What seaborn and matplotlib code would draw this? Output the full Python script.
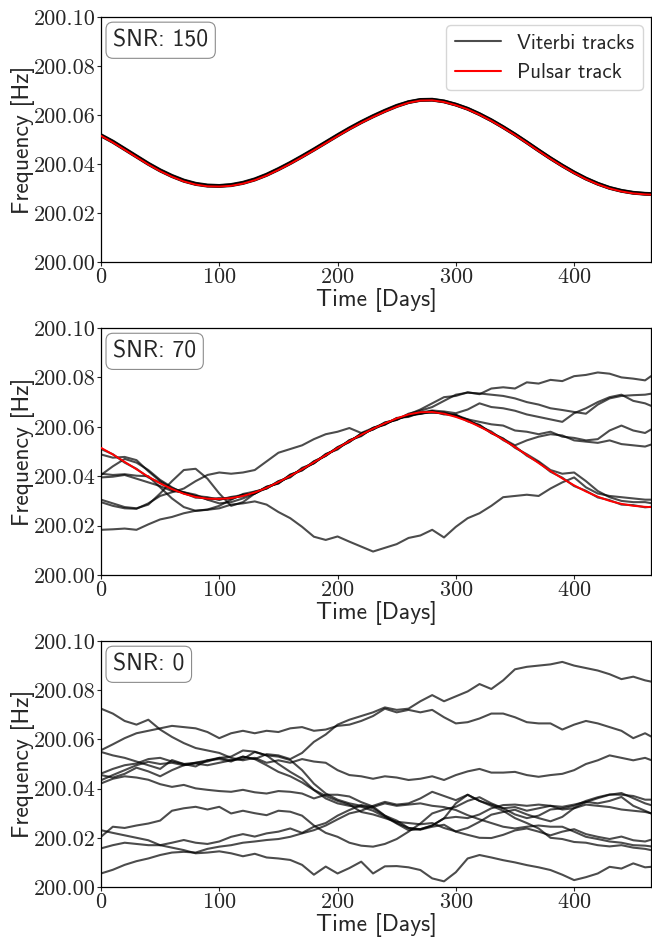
import numpy as np
import pandas as pd
import matplotlib
matplotlib.use("Agg")
import matplotlib.pyplot as plt
from matplotlib.lines import Line2D
from matplotlib.ticker import FormatStrFormatter, MultipleLocator
import seaborn as sns

# ---------------- data (frequency offsets in mHz above 200 Hz) ----------------
F0 = 200.0
days = list(range(0, 461, 10)) + [465]

pulsar = [51.5, 48.8, 45.8, 42.8, 39.8, 37.1, 34.8, 32.9, 31.6, 30.9,
          30.8, 31.1, 32.0, 33.4, 35.3, 37.6, 40.1, 42.8, 45.6, 48.5,
          51.4, 54.2, 56.8, 59.2, 61.4, 63.4, 65.0, 65.9, 66.0, 65.3,
          64.0, 62.3, 60.1, 57.6, 54.8, 51.8, 48.6, 45.3, 42.1, 39.1,
          36.3, 33.8, 31.7, 30.0, 28.8, 28.0, 27.6, 27.5]

# SNR 150 Viterbi tracks
snr150_a = [51.8, 49.2, 46.2, 43.2, 40.2, 37.5, 35.2, 33.3, 32.0, 31.3,
            31.1, 31.5, 32.4, 33.8, 35.7, 38.0, 40.5, 43.2, 46.0, 48.9,
            51.8, 54.6, 57.2, 59.6, 61.8, 63.8, 65.3, 66.2, 66.3, 65.6,
            64.3, 62.6, 60.4, 57.9, 55.1, 52.1, 48.9, 45.6, 42.4, 39.4,
            36.6, 34.1, 32.0, 30.3, 29.1, 28.3, 27.9, 27.8]
snr150_b = [51.6, 49.0, 46.0, 43.0, 40.0, 37.3, 35.0, 33.1, 31.8, 31.1,
            31.0, 31.3, 32.2, 33.6, 35.5, 37.8, 40.3, 43.0, 45.8, 48.7,
            51.6, 54.4, 57.0, 59.4, 61.6, 63.6, 65.2, 66.1, 66.2, 65.5,
            64.2, 62.5, 60.3, 57.8, 55.0, 52.0, 48.8, 45.5, 42.3, 39.3,
            36.5, 34.0, 31.9, 30.2, 29.0, 28.2, 27.8, 27.7]

# SNR 70 Viterbi tracks
snr70_1 = [51.0, 48.9, 45.5, 43.0, 39.5, 37.4, 34.5, 33.2, 31.3, 31.2,
           30.5, 31.4, 31.8, 33.7, 35.0, 37.9, 39.8, 43.1, 45.3, 48.8,
           51.1, 54.5, 56.5, 59.5, 61.0, 63.4, 64.3, 65.9, 65.7, 65.9,
           64.2, 63.0, 60.1, 58.1, 54.6, 52.1, 48.3, 45.6, 41.8, 39.4,
           36.0, 34.1, 31.4, 30.3, 28.5, 28.3, 27.4, 27.6]
snr70_2 = [48.8, 47.5, 47.8, 46.5, 42.0, 38.0, 35.2, 33.5, 32.0, 31.5,
           30.5, 31.6, 32.4, 33.0, 35.6, 37.3, 40.5, 42.5, 46.0, 48.2,
           51.8, 54.0, 57.2, 59.0, 61.6, 63.0, 65.0, 67.0, 69.5, 72.0,
           72.5, 74.0, 73.2, 75.5, 76.0, 75.5, 78.0, 77.5, 79.0, 78.5,
           80.5, 81.0, 82.0, 81.5, 80.0, 79.5, 78.8, 80.5]
snr70_3 = [40.5, 44.0, 47.0, 45.5, 42.5, 38.5, 35.5, 33.0, 31.9, 30.6,
           31.2, 30.7, 32.5, 33.0, 35.8, 37.0, 40.7, 42.3, 46.0, 48.3,
           51.6, 53.8, 57.3, 58.9, 61.8, 62.8, 65.3, 66.5, 68.0, 70.5,
           73.0, 73.8, 73.5, 73.0, 72.5, 71.5, 70.0, 69.0, 67.5, 66.8,
           66.0, 65.3, 69.0, 71.5, 72.5, 72.8, 73.0, 73.4]
snr70_4 = [41.0, 40.5, 40.8, 40.2, 40.0, 35.5, 31.0, 27.5, 26.0, 26.5,
           28.0, 30.5, 32.8, 33.8, 35.0, 38.0, 39.5, 43.4, 45.2, 49.0,
           50.8, 54.6, 56.2, 59.6, 60.8, 63.6, 64.0, 65.8, 66.6, 66.2,
           65.5, 67.0, 69.5, 68.0, 67.5, 66.5, 65.0, 64.0, 63.0, 62.0,
           65.5, 67.5, 70.0, 72.0, 73.0, 70.5, 69.5, 68.5]
snr70_5 = [39.5, 39.8, 40.5, 39.0, 37.5, 36.0, 34.0, 33.5, 32.5, 30.5,
           29.0, 29.5, 31.0, 33.0, 35.6, 37.2, 40.3, 42.6, 45.3, 48.7,
           51.3, 54.0, 57.0, 59.0, 61.1, 63.3, 64.4, 65.3, 66.4, 65.3,
           64.8, 63.0, 62.0, 61.0, 60.5, 58.5, 58.0, 57.0, 58.0, 56.0,
           55.5, 54.5, 55.0, 58.5, 60.5, 58.5, 57.5, 58.9]
snr70_6 = [30.5, 29.0, 27.5, 27.0, 28.5, 33.0, 38.0, 42.5, 43.0, 39.0,
           33.0, 28.0, 29.5, 33.0, 35.2, 37.4, 40.0, 42.9, 45.5, 48.4,
           51.5, 54.3, 56.6, 59.3, 61.2, 63.2, 64.7, 65.4, 65.8, 65.4,
           64.6, 62.5, 60.6, 57.6, 55.1, 52.5, 54.5, 56.0, 57.0, 56.5,
           54.5, 54.0, 53.5, 54.5, 53.0, 52.5, 52.0, 52.8]
snr70_7 = [29.5, 28.0, 27.0, 26.8, 29.0, 32.0, 33.5, 35.0, 38.0, 40.5,
           41.5, 41.0, 41.5, 42.5, 46.0, 49.5, 51.0, 52.5, 55.0, 57.0,
           58.0, 59.5, 57.5, 59.5, 61.5, 62.8, 64.9, 65.2, 66.3, 65.0,
           64.9, 62.2, 60.8, 57.4, 55.3, 51.5, 48.9, 46.0, 42.5, 41.0,
           41.5, 38.0, 34.0, 31.5, 30.0, 29.5, 29.5, 29.1]
snr70_8 = [18.3, 18.5, 18.8, 18.3, 20.5, 22.5, 23.5, 25.0, 26.0, 26.4,
           27.0, 28.5, 29.0, 29.8, 28.5, 25.5, 23.0, 19.5, 15.5, 14.2,
           15.6, 13.5, 11.5, 9.5, 11.0, 12.5, 15.0, 16.0, 18.3, 15.2,
           19.5, 23.0, 25.0, 28.0, 31.5, 32.0, 32.5, 32.0, 35.0, 37.5,
           39.5, 35.5, 33.0, 32.0, 31.5, 31.0, 30.5, 30.5]

# SNR 0 Viterbi tracks
snr0_1 = [45.5, 44.5, 46.0, 48.5, 47.0, 45.0, 47.5, 49.5, 50.5, 51.0,
          52.5, 51.5, 53.0, 52.0, 54.0, 53.5, 52.0, 54.5, 59.0, 62.0,
          66.0, 68.0, 69.5, 71.0, 73.0, 72.0, 72.5, 75.5, 78.0, 75.5,
          77.5, 79.5, 82.5, 80.5, 84.0, 88.5, 89.5, 90.0, 90.5, 91.5,
          90.0, 89.0, 88.0, 86.5, 84.5, 85.5, 84.0, 83.5]
snr0_2 = [55.6, 58.0, 60.5, 62.5, 63.5, 64.5, 65.5, 65.0, 64.5, 63.0,
          60.5, 62.5, 63.5, 62.5, 63.5, 63.0, 64.5, 65.0, 63.5, 64.0,
          65.5, 66.0, 67.5, 69.5, 72.5, 71.0, 72.0, 71.0, 72.0, 69.0,
          66.5, 67.0, 68.5, 70.5, 70.5, 69.0, 67.0, 66.5, 66.5, 64.0,
          66.0, 67.5, 66.5, 65.0, 63.5, 60.5, 62.5, 61.2]
snr0_3 = [72.5, 70.5, 67.5, 66.0, 68.0, 64.0, 61.0, 58.5, 56.5, 55.5,
          54.5, 52.5, 51.5, 52.5, 50.5, 51.5, 50.5, 52.0, 51.0, 50.5,
          47.5, 45.5, 45.0, 44.0, 45.0, 44.5, 43.5, 44.0, 45.0, 43.5,
          45.5, 47.0, 48.0, 46.5, 46.5, 46.8, 45.5, 44.8, 45.5, 46.0,
          47.5, 50.0, 51.5, 53.5, 52.5, 51.5, 52.5, 51.6]
snr0_4 = [46.1, 48.0, 49.5, 50.2, 52.0, 52.5, 51.0, 50.0, 50.5, 51.5,
          52.5, 53.0, 55.5, 55.0, 53.5, 50.0, 46.8, 44.0, 39.5, 37.0,
          35.0, 33.5, 30.5, 29.5, 28.0, 26.5, 26.0, 25.5, 26.0, 24.0,
          22.6, 24.0, 26.5, 29.4, 30.5, 31.4, 29.5, 28.0, 26.7, 28.5,
          32.1, 34.5, 36.1, 37.5, 38.2, 36.1, 34.0, 33.3]
snr0_5 = [43.4, 45.5, 47.5, 49.5, 50.9, 50.0, 50.5, 49.5, 50.2, 49.5,
          50.5, 51.5, 52.0, 54.9, 53.5, 53.0, 51.6, 47.5, 42.0, 38.0,
          35.5, 34.0, 33.0, 32.0, 29.0, 27.0, 24.0, 23.5, 25.0, 27.9,
          28.5, 28.0, 29.5, 32.0, 33.3, 33.5, 33.0, 33.5, 33.0, 32.6,
          33.5, 34.6, 34.0, 35.0, 36.6, 33.0, 31.0, 29.9]
snr0_6 = [42.1, 44.0, 45.0, 44.5, 43.6, 41.8, 40.7, 41.5, 40.1, 39.5,
          39.0, 38.7, 39.5, 38.5, 38.0, 39.0, 38.7, 38.0, 36.0, 37.5,
          37.5, 36.8, 34.5, 32.7, 29.0, 26.0, 24.0, 23.3, 24.5, 25.3,
          22.5, 21.2, 20.0, 19.9, 21.2, 23.0, 23.8, 22.5, 21.0, 22.5,
          23.5, 21.5, 20.4, 19.5, 20.5, 19.0, 18.5, 19.2]
snr0_7 = [54.9, 53.5, 52.5, 51.0, 49.5, 48.0, 51.6, 50.0, 49.0, 51.5,
          52.0, 51.0, 53.0, 52.0, 49.5, 46.8, 45.0, 42.5, 39.4, 36.0,
          34.0, 33.0, 32.6, 31.0, 28.5, 25.8, 23.1, 23.5, 25.0, 27.9,
          34.0, 37.5, 35.0, 33.0, 31.0, 28.0, 26.0, 23.8, 20.0, 19.5,
          18.3, 18.0, 17.0, 16.5, 17.0, 16.0, 15.5, 15.0]
snr0_8 = [23.1, 22.0, 21.0, 20.0, 19.0, 17.0, 16.0, 15.0, 13.7, 14.0,
          14.5, 13.7, 12.5, 13.5, 12.0, 11.6, 11.0, 9.0, 5.0, 8.3,
          5.5, 7.7, 10.3, 5.5, 8.4, 8.5, 8.0, 6.9, 3.5, 2.3,
          6.0, 11.6, 13.0, 12.0, 10.9, 10.0, 8.9, 8.0, 6.9, 5.0,
          2.8, 4.0, 5.5, 8.2, 7.5, 9.6, 8.0, 8.2]
snr0_9 = [20.4, 24.5, 24.0, 25.0, 25.8, 27.0, 31.0, 32.0, 32.6, 31.5,
          32.6, 29.9, 31.0, 30.0, 29.2, 31.0, 30.6, 29.0, 25.0, 22.0,
          20.4, 18.0, 16.8, 16.4, 17.5, 19.5, 22.5, 25.8, 29.9, 31.5,
          32.6, 35.0, 36.5, 34.0, 32.0, 29.5, 28.0, 29.0, 31.5, 32.0,
          33.0, 35.0, 36.5, 37.6, 37.5, 37.0, 35.5, 35.5]
snr0_10 = [15.7, 17.0, 18.0, 17.5, 17.0, 17.0, 18.0, 19.1, 18.0, 17.5,
           18.5, 20.4, 21.5, 20.5, 21.8, 22.5, 23.8, 22.0, 24.5, 26.0,
           29.0, 31.3, 33.3, 32.5, 34.0, 33.0, 33.5, 34.0, 33.0, 32.5,
           31.3, 29.2, 27.5, 26.0, 24.5, 23.8, 24.5, 25.0, 24.5, 24.5,
           22.5, 20.4, 19.5, 18.5, 18.0, 17.0, 16.8, 16.5]
snr0_11 = [5.5, 7.0, 9.0, 10.5, 11.6, 13.0, 14.0, 14.3, 14.0, 15.5,
           16.4, 17.0, 18.0, 18.5, 19.1, 19.5, 20.4, 21.8, 23.1, 25.0,
           27.5, 29.9, 31.0, 33.0, 34.6, 33.5, 34.0, 36.0, 38.7, 37.0,
           35.3, 37.5, 35.0, 33.5, 32.0, 32.5, 31.0, 32.0, 33.0, 31.5,
           32.0, 33.5, 33.0, 32.5, 31.5, 31.0, 30.5, 30.0]

panels = [
    ("SNR: 150", [snr150_a, snr150_b], True, 2.6, 0.9),
    ("SNR: 70", [snr70_1, snr70_2, snr70_3, snr70_4, snr70_5, snr70_6, snr70_7, snr70_8],
     True, 1.5, 0.7),
    ("SNR: 0", [snr0_1, snr0_2, snr0_3, snr0_4, snr0_5, snr0_6, snr0_7, snr0_8,
                snr0_9, snr0_10, snr0_11], False, 1.5, 0.7),
]

# ---------------- style ----------------
sns.set_style("ticks")
plt.rcParams["font.family"] = ["cmss10", "DejaVu Sans"]
plt.rcParams["axes.formatter.use_mathtext"] = True
plt.rcParams["mathtext.fontset"] = "cm"
plt.rcParams["axes.edgecolor"] = "black"
plt.rcParams["axes.linewidth"] = 0.9

TRACK_COLOR = "black"

fig = plt.figure(figsize=(6.52, 9.39), dpi=100)
W, H = 652, 939
boxes = [(17, 262), (328, 575), (641, 887)]
left_px, right_px = 101, 651

for (title, tracks, show_pulsar, lw, alpha), (top, bot) in zip(panels, boxes):
    ax = fig.add_axes([left_px / W, 1 - bot / H, (right_px - left_px) / W, (bot - top) / H])
    rows = []
    for k, tr in enumerate(tracks):
        for d, v in zip(days, tr):
            rows.append({"day": d, "freq": F0 + v / 1000.0, "track": k})
    df = pd.DataFrame(rows)
    sns.lineplot(data=df, x="day", y="freq", units="track", estimator=None,
                 color=TRACK_COLOR, alpha=alpha, lw=lw, ax=ax, legend=False)
    if show_pulsar:
        pdf = pd.DataFrame({"day": days, "freq": [F0 + v / 1000.0 for v in pulsar]})
        sns.lineplot(data=pdf, x="day", y="freq", color="red", lw=1.4, ax=ax, zorder=5)

    ax.set_xlim(0, 465)
    ax.set_ylim(200.0, 200.1)
    ax.yaxis.set_major_locator(MultipleLocator(0.02))
    ax.yaxis.set_major_formatter(FormatStrFormatter("%.2f"))
    ax.xaxis.set_major_locator(MultipleLocator(100))
    ax.tick_params(axis="both", direction="out", length=3, width=0.8, pad=1,
                   labelsize=16, labelfontfamily="cmr10")
    ax.set_xlabel("Time [Days]", fontsize=17)
    ax.set_ylabel("Frequency [Hz]", fontsize=17)
    ax.xaxis.set_label_coords(0.5, -0.105)
    ax.yaxis.set_label_coords(-0.12, 0.5)

    ax.text(0.022, 0.95, title, transform=ax.transAxes, ha="left", va="top",
            fontsize=17, zorder=10,
            bbox=dict(boxstyle="round,pad=0.3", fc="white", ec="0.55", lw=0.8))

    if title == "SNR: 150":
        handles = [Line2D([], [], color=TRACK_COLOR, alpha=0.7, lw=1.5),
                   Line2D([], [], color="red", lw=1.5)]
        leg = ax.legend(handles, ["Viterbi tracks", "Pulsar track"], loc="upper right",
                        fontsize=15, frameon=True, fancybox=True, borderaxespad=0.4,
                        handlelength=2.2)
        leg.get_frame().set_edgecolor("0.8")

fig.savefig("out.png", dpi=100)
